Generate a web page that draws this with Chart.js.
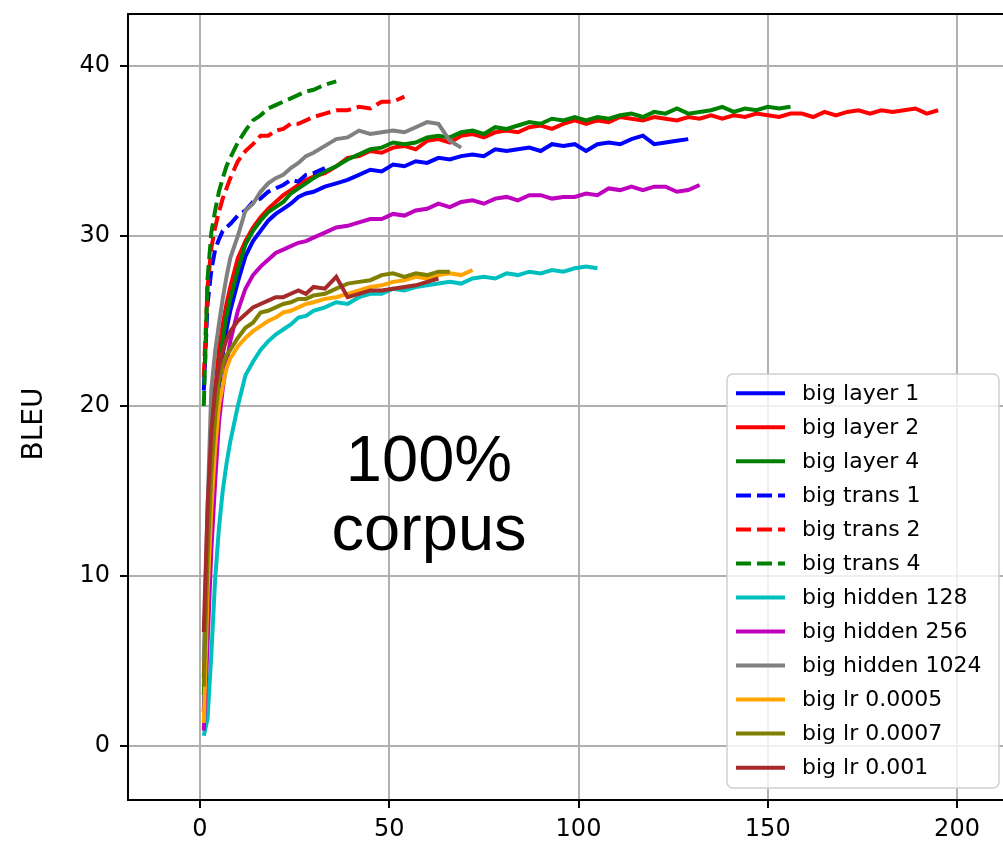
<!DOCTYPE html>
<html>
<head>
<meta charset="utf-8">
<script src="https://cdn.jsdelivr.net/npm/chart.js"></script>
<style>
  html, body { margin: 0; padding: 0; background: #fff; overflow: hidden; }
  #wrap { width: 1012px; height: 846px; }
</style>
</head>
<body>
<div id="wrap"><canvas id="bleuChart" width="1012" height="846"></canvas></div>
<script>
// epoch grid shared by all curves (each curve uses the first N points)
const epochs = [1, 2, 3, 4, 5, 6, 7, 8, 10, 12, 14, 16, 18, 20, 22, 24, 26, 28, 30,
  33, 36, 39, 42, 45, 48, 51, 54, 57, 60, 63, 66, 69, 72, 75, 78, 81, 84, 87, 90,
  93, 96, 99, 102, 105, 108, 111, 114, 117, 120, 123, 126, 129, 132, 135, 138, 141,
  144, 147, 150, 153, 156, 159, 162, 165, 168, 171, 174, 177, 180, 183, 186, 189, 192, 195];

const xTicks = [0, 50, 100, 150, 200];
const yTicks = [0, 10, 20, 30, 40];

const labels = ['big layer 1', 'big layer 2', 'big layer 4', 'big trans 1', 'big trans 2', 'big trans 4',
  'big hidden 128', 'big hidden 256', 'big hidden 1024', 'big lr 0.0005', 'big lr 0.0007', 'big lr 0.001'];

const layer1 = [2.0, 9, 14.5, 18.5, 21, 23, 24.5, 25.6, 27.3, 28.8, 29.7, 30.3, 30.9, 31.3, 31.6, 31.9, 32.3, 32.5, 32.6,
  32.9, 33.1, 33.3, 33.6, 33.9, 33.8, 34.2, 34.1, 34.4, 34.3,
  34.6, 34.5, 34.7, 34.8, 34.7, 35.1, 35.0, 35.1, 35.2, 35.0,
  35.4, 35.3, 35.4, 35.0, 35.4, 35.5, 35.4, 35.7, 35.9, 35.4,
  35.5, 35.6, 35.7];
const layer2 = [4.0, 12, 17.5, 21, 23.3, 24.8, 26, 27, 28.7, 29.7, 30.5, 31.1, 31.6, 32.0, 32.4, 32.7, 33.0, 33.3, 33.5,
  33.7, 34.1, 34.6, 34.7, 35.0, 34.9, 35.2, 35.3, 35.1, 35.6,
  35.7, 35.5, 35.9, 36.0, 35.8, 36.1, 36.2, 36.1, 36.4, 36.5,
  36.3, 36.6, 36.8, 36.6, 36.8, 36.7, 37.0, 36.9, 36.8, 37.0,
  36.9, 36.8, 37.0, 36.9, 37.1, 36.9, 37.1, 37.0, 37.2, 37.1,
  37.0, 37.2, 37.2, 37.0, 37.3, 37.1, 37.3, 37.4, 37.2, 37.4,
  37.3, 37.4, 37.5, 37.2, 37.4];
const layer4 = [3.0, 10, 15.5, 19.5, 22, 23.9, 25.3, 26.3, 28.0, 29.5, 30.3, 30.9, 31.4, 31.7, 32.0, 32.5, 32.8, 33.1, 33.4,
  33.8, 34.1, 34.5, 34.8, 35.1, 35.2, 35.5, 35.4, 35.5, 35.8,
  35.9, 35.8, 36.1, 36.2, 36.0, 36.4, 36.3, 36.5, 36.7, 36.6,
  36.9, 36.8, 37.0, 36.8, 37.0, 36.9, 37.1, 37.2, 37.0, 37.3,
  37.2, 37.5, 37.2, 37.3, 37.4, 37.6, 37.3, 37.5, 37.4, 37.6,
  37.5, 37.6];
const trans1 = [20.9, 26, 28, 29.2, 29.8, 30.3, 30.5, 30.7, 31.2, 31.5, 32.0, 32.2, 32.6, 32.8, 33.0, 33.3, 33.2, 33.6, 33.7,
  34.0];
const trans2 = [21.7, 27, 29.3, 30.5, 31.4, 32.2, 32.8, 33.4, 34.4, 35.0, 35.4, 35.9, 35.9, 36.2, 36.3, 36.6, 36.6, 36.8, 37.0,
  37.2, 37.4, 37.4, 37.6, 37.5, 37.9, 37.9, 38.2];
const trans4 = [20.0, 27.5, 30.2, 31.5, 32.6, 33.4, 34.1, 34.6, 35.5, 36.2, 36.8, 37.1, 37.5, 37.7, 37.9, 38.1, 38.3, 38.5, 38.6,
  38.9, 39.1];
const hidden128 = [0.6, 1.6, 5.4, 9.8, 12.8, 15.0, 16.6, 17.9, 20.0, 21.8, 22.6, 23.3, 23.8, 24.2, 24.5, 24.8, 25.2, 25.3, 25.6,
  25.8, 26.1, 26.0, 26.4, 26.6, 26.6, 26.9, 26.8, 27.0, 27.1,
  27.2, 27.3, 27.2, 27.5, 27.6, 27.5, 27.8, 27.7, 27.9, 27.8,
  28.0, 27.9, 28.1, 28.2, 28.1];
const hidden256 = [0.9, 6, 11.5, 15.5, 19.0, 21.0, 22.5, 23.8, 25.6, 26.9, 27.7, 28.2, 28.6, 29.0, 29.2, 29.4, 29.6, 29.7, 29.9,
  30.2, 30.5, 30.6, 30.8, 31.0, 31.0, 31.3, 31.2, 31.5, 31.6,
  31.9, 31.7, 32.0, 32.1, 31.9, 32.2, 32.3, 32.1, 32.4, 32.4,
  32.2, 32.3, 32.3, 32.5, 32.4, 32.8, 32.7, 32.9, 32.7, 32.9,
  32.9, 32.6, 32.7, 33.0];
const hidden1024 = [5.0, 14, 21.0, 23.2, 24.8, 26.3, 27.6, 28.7, 30.0, 31.5, 31.9, 32.6, 33.1, 33.4, 33.6, 34.0, 34.3, 34.7, 34.9,
  35.3, 35.7, 35.8, 36.2, 36.0, 36.1, 36.2, 36.1, 36.4, 36.7, 36.6, 35.6, 35.2];
const lr0005 = [1.35, 9, 14, 17.5, 20.0, 21.2, 22.2, 22.8, 23.5, 24.0, 24.4, 24.7, 25.0, 25.2, 25.5, 25.6, 25.8, 26.0, 26.1,
  26.3, 26.4, 26.6, 26.8, 27.0, 27.1, 27.3, 27.4, 27.6, 27.5, 27.7, 27.8, 27.7, 28.0];
const lr0007 = [3.5, 11, 16, 19.3, 21.5, 22.4, 23.0, 23.3, 24.0, 24.6, 24.9, 25.5, 25.6, 25.8, 26.0, 26.1, 26.3, 26.3, 26.5,
  26.6, 26.9, 27.2, 27.3, 27.4, 27.7, 27.8, 27.6, 27.8, 27.7, 27.9, 27.9];
const lr001 = [6.7, 14, 18.5, 21, 22.3, 23.2, 23.9, 24.4, 25.0, 25.4, 25.8, 26.0, 26.2, 26.4, 26.4, 26.6, 26.8, 26.6, 27.0,
  26.9, 27.6, 26.4, 26.6, 26.8, 26.8, 26.9, 27.0, 27.1, 27.3, 27.5];

const seriesValues = [layer1, layer2, layer4, trans1, trans2, trans4, hidden128, hidden256, hidden1024, lr0005, lr0007, lr001];
const colors = ['#0000ff', '#ff0000', '#008000', '#0000ff', '#ff0000', '#008000',
  '#00bfbf', '#bf00bf', '#808080', '#ffa500', '#808000', '#a52a2a'];
const dashed = [false, false, false, true, true, true, false, false, false, false, false, false];
const DASH = [15, 6];

const datasets = seriesValues.map((ys, i) => ({
  label: labels[i],
  data: ys.map((y, j) => ({ x: epochs[j], y: y })),
  borderColor: colors[i],
  backgroundColor: colors[i],
  borderWidth: 4,
  borderDash: dashed[i] ? DASH : [],
  pointRadius: 0,
  tension: 0,
  fill: false,
  order: -i   // later series are painted on top, like matplotlib
}));

const tickFont = { family: 'DejaVu Sans', size: 24 };

// black frame on top/right + y title + centre text + legend box
const decorations = {
  id: 'decorations',
  afterDraw(chart) {
    const ctx = chart.ctx;
    const a = chart.chartArea;
    const xs = chart.scales.x, ys = chart.scales.y;
    ctx.save();
    ctx.strokeStyle = '#000';
    ctx.lineWidth = 2;
    ctx.beginPath();
    ctx.moveTo(a.left, a.top);
    ctx.lineTo(a.right, a.top);
    ctx.lineTo(a.right, a.bottom);
    ctx.stroke();

    // y axis title
    ctx.fillStyle = '#000';
    ctx.font = '28px "DejaVu Sans"';
    ctx.translate(35, 424);
    ctx.rotate(-Math.PI / 2);
    ctx.textAlign = 'center';
    ctx.textBaseline = 'middle';
    ctx.fillText('BLEU', 0, 0);
    ctx.restore();

    // annotation
    ctx.save();
    ctx.fillStyle = '#000';
    ctx.font = '65px "Liberation Sans"';
    ctx.textAlign = 'center';
    ctx.textBaseline = 'alphabetic';
    const cx = xs.getPixelForValue(60.5);
    ctx.fillText('100%', cx, ys.getPixelForValue(15.6));
    ctx.fillText('corpus', cx, ys.getPixelForValue(11.5));
    ctx.restore();

    // legend
    ctx.save();
    const bx = 727, by = 374, bw = 272, bh = 414;
    ctx.beginPath();
    ctx.roundRect(bx, by, bw, bh, 6);
    ctx.fillStyle = 'rgba(255,255,255,0.8)';
    ctx.fill();
    ctx.strokeStyle = '#d0d0d0';
    ctx.lineWidth = 1.5;
    ctx.stroke();
    ctx.font = '22px "DejaVu Sans"';
    ctx.textBaseline = 'middle';
    ctx.textAlign = 'left';
    chart.data.datasets.forEach((ds, i) => {
      const y = 393.3 + i * 34.03;
      ctx.strokeStyle = ds.borderColor;
      ctx.lineWidth = 4;
      ctx.setLineDash(ds.borderDash);
      ctx.beginPath();
      ctx.moveTo(736, y);
      ctx.lineTo(785, y);
      ctx.stroke();
      ctx.setLineDash([]);
      ctx.fillStyle = '#000';
      ctx.fillText(ds.label, 802, y + 1);
    });
    ctx.restore();
  }
};

new Chart(document.getElementById('bleuChart'), {
  type: 'line',
  data: { datasets: datasets },
  options: {
    responsive: false,
    animation: false,
    devicePixelRatio: 1,
    layout: { padding: { left: 0, top: 14, right: 4, bottom: 0 } },
    plugins: { legend: { display: false }, tooltip: { enabled: false } },
    scales: {
      x: {
        type: 'linear',
        min: -19.02,
        max: 213.47,
        afterFit(scale) { scale.height = 46; scale.paddingLeft = 0; scale.paddingRight = 0; },
        afterBuildTicks(scale) { scale.ticks = xTicks.map(v => ({ value: v })); },
        ticks: { font: tickFont, color: '#000', padding: 7, maxRotation: 0 },
        grid: { color: '#b0b0b0', lineWidth: 2, tickColor: '#000', tickLength: 8, tickWidth: 2 },
        border: { display: true, color: '#000', width: 2 }
      },
      y: {
        type: 'linear',
        min: -3.18,
        max: 43.06,
        afterFit(scale) { scale.width = 128; scale.paddingTop = 0; scale.paddingBottom = 0; },
        afterBuildTicks(scale) { scale.ticks = yTicks.map(v => ({ value: v })); },
        ticks: { font: tickFont, color: '#000', padding: 10 },
        grid: { color: '#b0b0b0', lineWidth: 2, tickColor: '#000', tickLength: 8, tickWidth: 2 },
        border: { display: true, color: '#000', width: 2 }
      }
    }
  },
  plugins: [decorations]
});
</script>
</body>
</html>
